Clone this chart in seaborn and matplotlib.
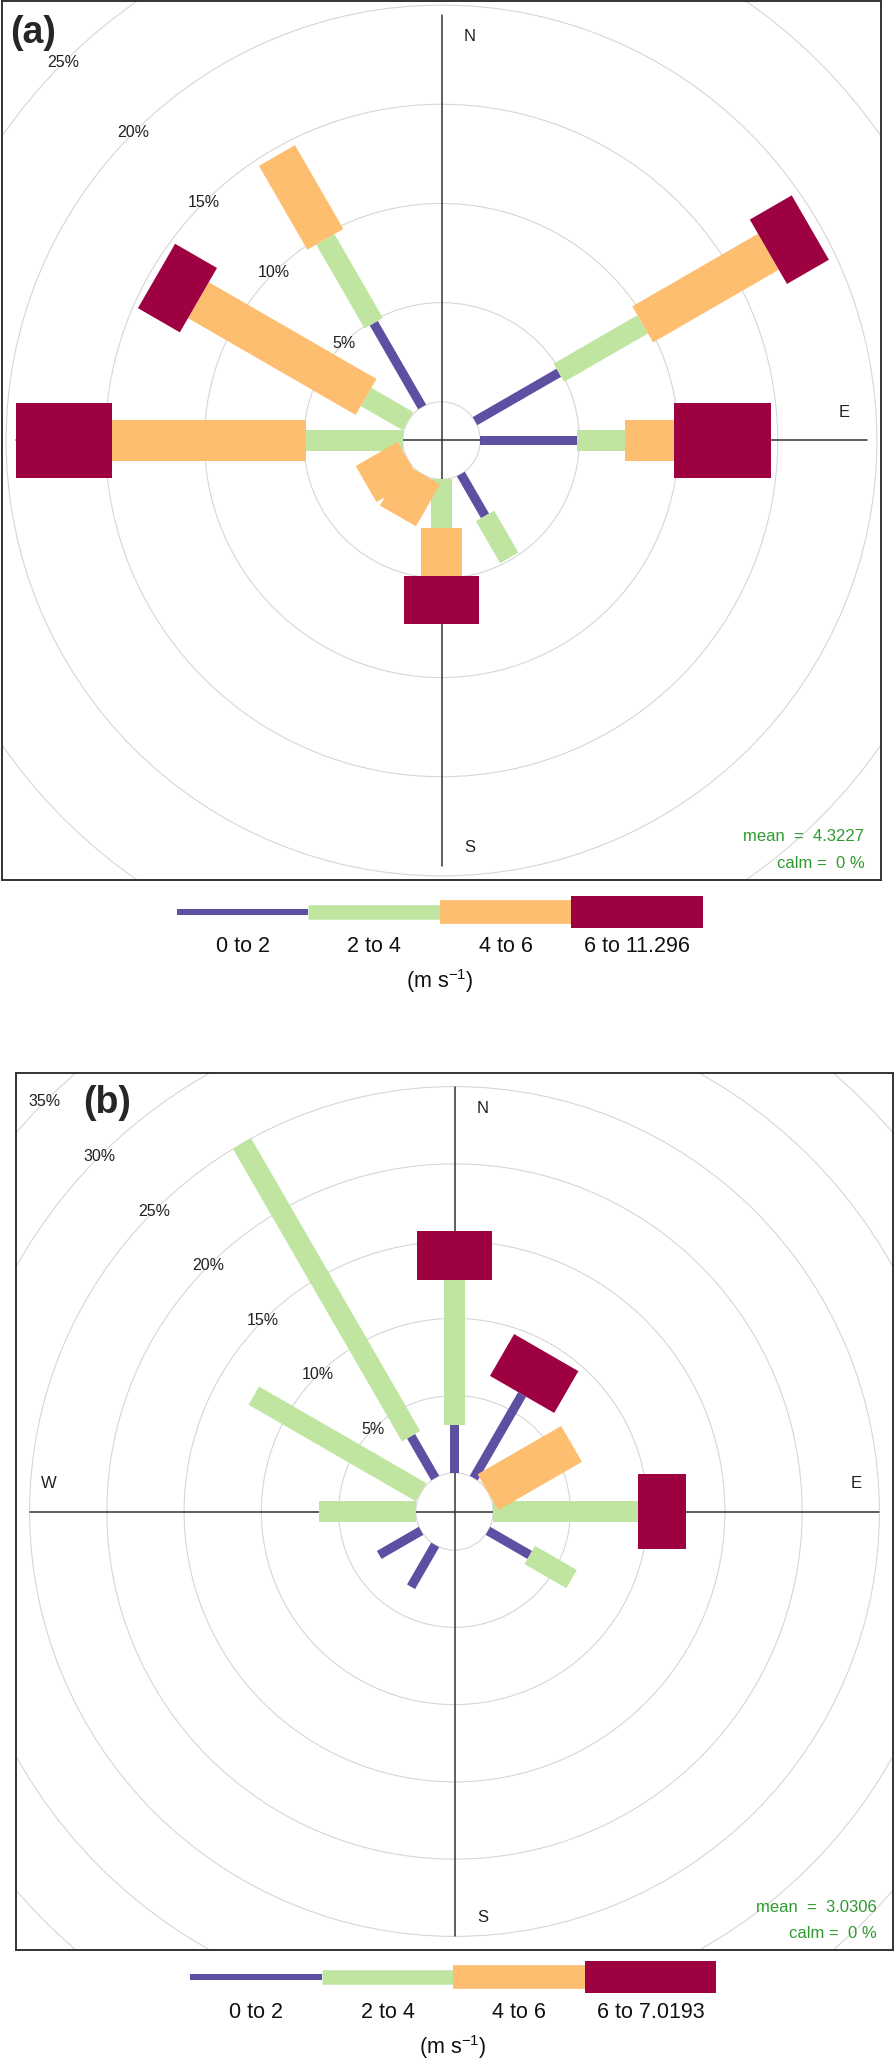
import numpy as np
import matplotlib
matplotlib.use('Agg')
import matplotlib.pyplot as plt
import seaborn as sns
from matplotlib.patches import Circle

sns.set_theme(style='white')
plt.rcParams['font.family'] = ['Liberation Sans', 'DejaVu Sans']
plt.rcParams['mathtext.default'] = 'regular'

# wind direction sectors (deg, from north) and speed bins
directions = [0, 30, 60, 90, 120, 150, 180, 210, 240, 270, 300, 330]
bins_a = ['0 to 2', '2 to 4', '4 to 6', '6 to 11.296']
bins_b = ['0 to 2', '2 to 4', '4 to 6', '6 to 7.0193']

# frequency (%) by direction for each speed bin, panel (a)
a_0to2 = [0, 0, 4.88, 4.88, 0, 2.44, 0, 0, 0, 0, 0, 4.88]
a_2to4 = [0, 0, 4.88, 2.44, 0, 2.44, 2.44, 0, 0, 4.88, 2.44, 4.88]
a_4to6 = [0, 0, 7.32, 2.44, 0, 0, 2.44, 2.44, 2.44, 9.76, 9.76, 4.88]
a_6up = [0, 0, 2.44, 4.88, 0, 0, 2.44, 0, 0, 4.88, 2.44, 0]

# panel (b)
b_0to2 = [3.125, 6.25, 0, 0, 3.125, 0, 0, 3.125, 3.125, 0, 0, 3.125]
b_2to4 = [9.375, 0, 0, 9.375, 3.125, 0, 0, 0, 0, 6.25, 12.5, 21.875]
b_4to6 = [0, 0, 6.25, 0, 0, 0, 0, 0, 0, 0, 0, 0]
b_6up = [3.125, 3.125, 0, 3.125, 0, 0, 0, 0, 0, 0, 0, 0]

mean_a, mean_b = '4.3227', '3.0306'

cmap = sns.color_palette('Spectral_r', as_cmap=True)
colors = [cmap(v) for v in [0.0, 1 / 3, 2 / 3, 1.0]]

W, H = 894, 2061
fig = plt.figure(figsize=(W / 100, H / 100), dpi=100)


def px_axes(x0, top, w, h):
    return fig.add_axes([x0 / W, 1 - (top + h) / H, w / W, h / H])


def draw_rose(ax, freqs, ring_max, mean_txt):
    freqs = np.array(freqs)
    cum = np.cumsum(freqs, axis=0)
    max_freq = cum[-1].max()
    off = max_freq * 0.1
    half_w = np.linspace(0.002 ** 0.25, 0.016 ** 0.25, 4) ** 4 * max_freq * 30 / 5
    R = max_freq + off
    lim = R * 1.032
    ax.set_xlim(-lim, lim)
    ax.set_ylim(-lim, lim)
    ax.set_xticks([])
    ax.set_yticks([])
    for s in ax.spines.values():
        s.set_color('#333333')
        s.set_linewidth(1.4)

    # grid rings and their labels
    ang = np.deg2rad(315)
    for pct in range(5, ring_max + 1, 5):
        r = off + pct
        ax.add_patch(Circle((0, 0), r, fill=False, ec='#d6d6d6', lw=0.8, zorder=1))
        ax.text(r * np.sin(ang), r * np.cos(ang), f'{pct}%', ha='center',
                va='center', fontsize=11.5, color='#222222', zorder=2)
    ax.add_patch(Circle((0, 0), off, fill=False, ec='#d6d6d6', lw=0.8, zorder=1))

    ax.plot([-R, R], [0, 0], color='#333333', lw=1.1, zorder=2)
    ax.plot([0, 0], [-R, R], color='#333333', lw=1.1, zorder=2)
    kw = dict(ha='center', va='center', fontsize=12, color='#222222', zorder=2)
    ax.text(0.066 * R, 0.948 * R, 'N', **kw)
    ax.text(0.066 * R, -0.955 * R, 'S', **kw)
    ax.text(0.945 * R, 0.065 * R, 'E', **kw)
    ax.text(-0.954 * R, 0.065 * R, 'W', **kw)

    # paddles
    for j in range(freqs.shape[0]):
        start = cum[j] - freqs[j]
        for d, th in enumerate(directions):
            if freqs[j][d] <= 0:
                continue
            r0, r1 = off + start[d], off + cum[j][d]
            t = np.deg2rad(th)
            u = np.array([np.sin(t), np.cos(t)])
            v = np.array([np.cos(t), -np.sin(t)])
            hw = half_w[j]
            pts = np.array([r0 * u + hw * v, r1 * u + hw * v,
                            r1 * u - hw * v, r0 * u - hw * v])
            ax.fill(pts[:, 0], pts[:, 1], color=colors[j], lw=0, zorder=3)

    ax.text(0.981, 0.049, f'mean  =  {mean_txt}', transform=ax.transAxes,
            ha='right', va='center', fontsize=12, color='#2e9a2e')
    ax.text(0.981, 0.019, 'calm =  0 %', transform=ax.transAxes,
            ha='right', va='center', fontsize=12, color='#2e9a2e')


def draw_key(x0, bar_y, labels):
    seg = 131.5
    lax = px_axes(x0, bar_y - 25, 4 * seg, 120)
    lax.set_xlim(0, 4)
    lax.set_ylim(bar_y + 95, bar_y - 25)
    lax.axis('off')
    thick = [6, 14.5, 23.7, 32]
    for j in range(4):
        lax.plot([j, j + 1], [bar_y, bar_y], color=colors[j], lw=thick[j] * 0.72,
                 solid_capstyle='butt')
        lax.text(j + 0.5, bar_y + 35, labels[j], ha='center', va='center',
                 fontsize=15.5, color='#111111')
    lax.text(2, bar_y + 70, r'(m s$^{-1}$)', ha='center', va='center',
             fontsize=15.5, color='#111111')


ax_a = px_axes(2, 1, 879, 879)
draw_rose(ax_a, [a_0to2, a_2to4, a_4to6, a_6up], 25, mean_a)
fig.text(10 / W, 1 - 33 / H, '(a)', fontsize=27, fontweight='bold',
         ha='left', va='center')
draw_key(176.8, 911.5, bins_a)

ax_b = px_axes(16, 1073, 877, 877)
draw_rose(ax_b, [b_0to2, b_2to4, b_4to6, b_6up], 35, mean_b)
fig.text(83 / W, 1 - 1103 / H, '(b)', fontsize=27, fontweight='bold',
         ha='left', va='center')
draw_key(190.2, 1977, bins_b)

fig.savefig('out.png', dpi=100)
